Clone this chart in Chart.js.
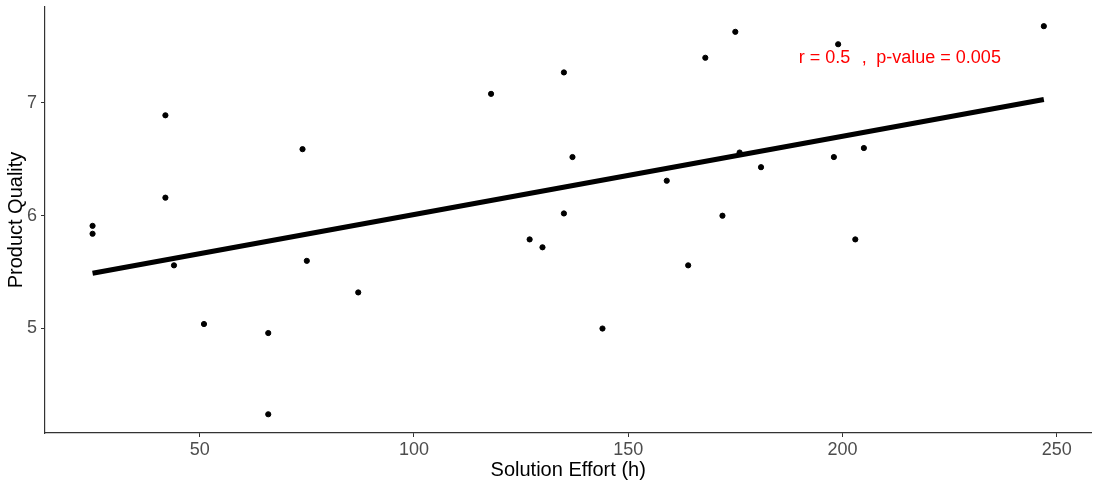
<!DOCTYPE html>
<html>
<head>
<meta charset="utf-8">
<script src="https://cdn.jsdelivr.net/npm/chart.js@4/dist/chart.umd.min.js"></script>
<style>
  html, body { margin: 0; padding: 0; background: #fff; }
  #wrap { width: 1095px; height: 485px; }
</style>
</head>
<body>
<div id="wrap"><canvas id="effortQualityChart"></canvas></div>
<script>
// Solution effort vs product quality, with linear fit

const effortHours = [25, 25, 42, 42, 44, 51, 66, 66, 74, 75, 87, 118, 127, 130, 135, 135, 137, 144, 159, 164, 168, 172, 175, 176, 181, 198, 199, 203, 205, 247];
const qualityScores = [5.91, 5.84, 6.89, 6.16, 5.56, 5.04, 4.96, 4.24, 6.59, 5.60, 5.32, 7.08, 5.79, 5.72, 7.27, 6.02, 6.52, 5.00, 6.31, 5.56, 7.40, 6.00, 7.63, 6.56, 6.43, 6.52, 7.52, 5.79, 6.60, 7.68];

// fitted line end points
const fitEffort = [25, 247];
const fitQuality = [5.49, 7.03];

const xTicks = [50, 100, 150, 200, 250];
const yTicks = [5, 6, 7];

const statsLabel = ['r = 0.5', ',', 'p-value = 0.005'];

const FONT = "'Liberation Sans', Arial, sans-serif";

const statsText = {
  id: 'statsText',
  afterDatasetsDraw(chart) {
    const { ctx, scales } = chart;
    const y = scales.y.getPixelForValue(7.4);
    const xs = [189.8, 204.5, 207.9].map((v) => scales.x.getPixelForValue(v));
    ctx.save();
    ctx.fillStyle = '#ff0000';
    ctx.font = `18px ${FONT}`;
    ctx.textAlign = 'left';
    ctx.textBaseline = 'middle';
    statsLabel.forEach((t, i) => ctx.fillText(t, xs[i], y));
    ctx.restore();
  },
};

const ctx = document.getElementById('effortQualityChart');

new Chart(ctx, {
  type: 'scatter',
  data: {
    datasets: [
      {
        type: 'line',
        label: 'Fit',
        data: fitEffort.map((x, i) => ({ x, y: fitQuality[i] })),
        borderColor: '#000',
        borderWidth: 5,
        pointRadius: 0,
        fill: false,
        order: 0,
      },
      {
        label: 'Projects',
        data: effortHours.map((x, i) => ({ x, y: qualityScores[i] })),
        backgroundColor: '#000',
        borderColor: '#000',
        pointRadius: 2.6,
        pointHoverRadius: 2.6,
        order: 1,
      },
    ],
  },
  options: {
    responsive: true,
    maintainAspectRatio: false,
    animation: false,
    layout: { padding: { top: 7, right: 2, left: 0, bottom: 0 } },
    plugins: {
      legend: { display: false },
      tooltip: { enabled: false },
    },
    scales: {
      x: {
        type: 'linear',
        min: 13.9,
        max: 258.1,
        afterBuildTicks: (scale) => { scale.ticks = xTicks.map((value) => ({ value })); },
        afterFit: (scale) => { scale.height = 52; scale.paddingLeft = 0; scale.paddingRight = 0; },
        grid: { drawOnChartArea: false, drawTicks: true, tickLength: 4, color: '#333' },
        border: { display: true, color: '#333', width: 1.2 },
        ticks: { color: '#4d4d4d', font: { family: FONT, size: 18 }, padding: 2, maxRotation: 0 },
        title: { display: true, text: 'Solution Effort (h)', color: '#000', font: { family: FONT, size: 20 }, padding: { top: 4, bottom: 3 } },
      },
      y: {
        type: 'linear',
        min: 4.074,
        max: 7.85,
        afterBuildTicks: (scale) => { scale.ticks = yTicks.map((value) => ({ value })); },
        afterFit: (scale) => { scale.width = 45; scale.paddingTop = 0; scale.paddingBottom = 0; },
        grid: { drawOnChartArea: false, drawTicks: true, tickLength: 4, color: '#333' },
        border: { display: true, color: '#333', width: 1.2 },
        ticks: { color: '#4d4d4d', font: { family: FONT, size: 18 }, padding: 4 },
        title: { display: true, text: 'Product Quality', color: '#000', font: { family: FONT, size: 20 } },
      },
    },
  },
  plugins: [statsText],
});
</script>
</body>
</html>
